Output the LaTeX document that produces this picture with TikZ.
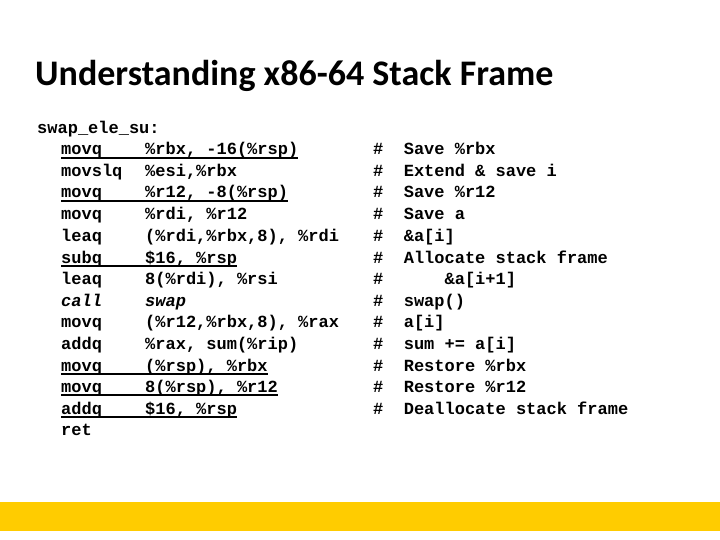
\documentclass[tikz,border=0pt]{standalone}
\usepackage{fontspec}
\setmainfont{Carlito}
\setmonofont{Liberation Mono}
\usetikzlibrary{positioning}
\definecolor{baryellow}{HTML}{FFCC00}
\tikzset{code/.style={anchor=base west,inner sep=0pt,font=\fontsize{17}{20}\selectfont\ttfamily\bfseries},
  uline/.style={line width=1.2pt}}
\begin{document}
\begin{tikzpicture}[x=1pt,y=-1pt]
	\useasboundingbox (0,0) rectangle (720,540);
	\fill[baryellow] (0,502) rectangle (720,531);
	\path (35,86) node(title) [anchor=base west,inner sep=0pt,font=\fontsize{36}{42}\selectfont\bfseries] {Understanding x86-64 Stack Frame};
	\path (37,134) node(label) [code] {swap\_ele\_su:};
	% instructions
	\path (61,155) node(op1) [code] {movq};
	\path (145,155) node(arg1) [code] {\%rbx, -16(\%rsp)};
	\path (61,177) node(op2) [code] {movslq};
	\path (145,177) node(arg2) [code] {\%esi,\%rbx};
	\path (61,198) node(op3) [code] {movq};
	\path (145,198) node(arg3) [code] {\%r12, -8(\%rsp)};
	\path (61,220) node(op4) [code] {movq};
	\path (145,220) node(arg4) [code] {\%rdi, \%r12};
	\path (61,241) node(op5) [code] {leaq};
	\path (145,241) node(arg5) [code] {(\%rdi,\%rbx,8), \%rdi};
	\path (61,263) node(op6) [code] {subq};
	\path (145,263) node(arg6) [code] {\$16, \%rsp};
	\path (61,284) node(op7) [code] {leaq};
	\path (145,284) node(arg7) [code] {8(\%rdi), \%rsi};
	\path (61,306) node(op8) [code] {\itshape call};
	\path (145,306) node(arg8) [code] {\itshape swap};
	\path (61,327) node(op9) [code] {movq};
	\path (145,327) node(arg9) [code] {(\%r12,\%rbx,8), \%rax};
	\path (61,349) node(op10) [code] {addq};
	\path (145,349) node(arg10) [code] {\%rax, sum(\%rip)};
	\path (61,371) node(op11) [code] {movq};
	\path (145,371) node(arg11) [code] {(\%rsp), \%rbx};
	\path (61,392) node(op12) [code] {movq};
	\path (145,392) node(arg12) [code] {8(\%rsp), \%r12};
	\path (61,414) node(op13) [code] {addq};
	\path (145,414) node(arg13) [code] {\$16, \%rsp};
	\path (61,435) node(op14) [code] {ret};
	% underlines
	\foreach \i in {1,3,6,11,12,13}
		\draw[uline] (op\i.base west) ++(0,3) -- ([yshift=-3pt]arg\i.base east);
	% comments
	\path (373,155) node(c1) [code] {\#\ \ Save \%rbx};
	\path (373,177) node(c2) [code] {\#\ \ Extend \& save i};
	\path (373,198) node(c3) [code] {\#\ \ Save \%r12};
	\path (373,220) node(c4) [code] {\#\ \ Save a};
	\path (373,241) node(c5) [code] {\#\ \ \&a[i]};
	\path (373,263) node(c6) [code] {\#\ \ Allocate stack frame};
	\path (373,284) node(c7) [code] {\#\ \ \ \ \ \ \&a[i+1]};
	\path (373,306) node(c8) [code] {\#\ \ swap()};
	\path (373,327) node(c9) [code] {\#\ \ a[i]};
	\path (373,349) node(c10) [code] {\#\ \ sum += a[i]};
	\path (373,371) node(c11) [code] {\#\ \ Restore \%rbx};
	\path (373,392) node(c12) [code] {\#\ \ Restore \%r12};
	\path (373,414) node(c13) [code] {\#\ \ Deallocate stack frame};
\end{tikzpicture}
\end{document}
